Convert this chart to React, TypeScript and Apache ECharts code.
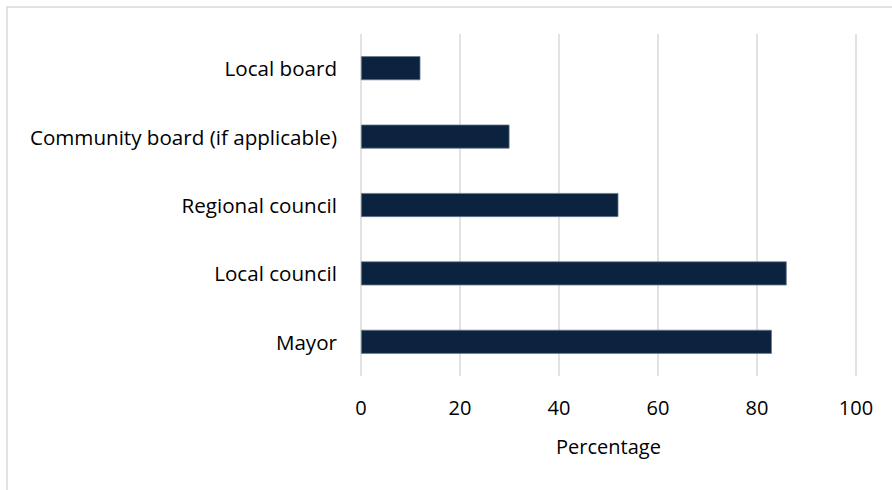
import React, { useEffect, useRef } from "react";
import * as echarts from "echarts";

const categories = [
  "Mayor",
  "Local council",
  "Regional council",
  "Community board (if applicable)",
  "Local board",
];
const values = [83, 86, 52, 30, 12];
const xTicks = { min: 0, max: 100, interval: 20 };
const axisName = "Percentage";

const FONT = "Open Sans";
const TEXT = "#000000";

export default function App() {
  const ref = useRef<HTMLDivElement>(null);
  useEffect(() => {
    if (!ref.current) return;
    const chart = echarts.init(ref.current, undefined, { renderer: "svg" });
    chart.setOption({
      animation: false,
      backgroundColor: "#ffffff",
      textStyle: { fontFamily: FONT },
      graphic: [
        {
          type: "rect",
          shape: { x: 7, y: 7, width: 920, height: 520 },
          style: { fill: "none", stroke: "#d9d9d9", lineWidth: 1.5 },
          silent: true,
        },
      ],
      grid: { left: 361, right: 36, top: 34, bottom: 114, containLabel: false },
      xAxis: {
        type: "value",
        min: xTicks.min,
        max: xTicks.max,
        interval: xTicks.interval,
        name: axisName,
        nameLocation: "middle",
        nameGap: 60,
        nameTextStyle: { color: TEXT, fontSize: 20, fontFamily: FONT },
        axisLine: { show: false },
        axisTick: { show: false },
        axisLabel: { color: TEXT, fontSize: 20, margin: 21, fontFamily: FONT },
        splitLine: { show: true, lineStyle: { color: "#d9d9d9", width: 1.5 } },
      },
      yAxis: {
        type: "category",
        data: categories,
        axisLine: { show: false },
        axisTick: { show: false },
        axisLabel: { color: TEXT, fontSize: 20.6, margin: 24, fontFamily: FONT },
        splitLine: { show: false },
      },
      series: [
        {
          type: "bar",
          data: values,
          barWidth: 24,
          itemStyle: { color: "#0c2340", borderColor: "#6b7a90", borderWidth: 0.75 },
        },
      ],
    });
    return () => chart.dispose();
  }, []);
  return (
    <div
      ref={ref}
      style={{ position: "fixed", left: 0, top: 0, width: 892, height: 490 }}
    />
  );
}
